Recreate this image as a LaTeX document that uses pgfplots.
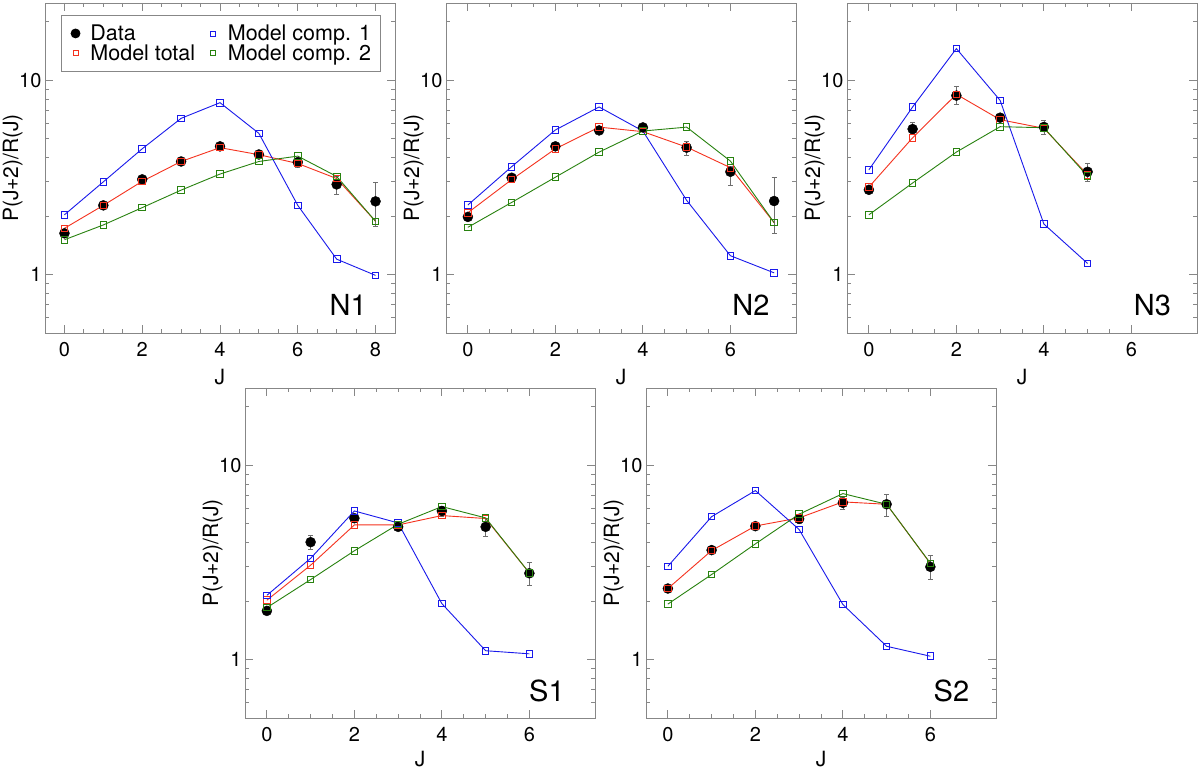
\documentclass[border=0pt]{standalone}
\usepackage{fontspec}
\setmainfont{TeX Gyre Heros}
\usepackage{pgfplots}
\pgfplotsset{compat=1.18}
\usepackage{pgfplotstable}
\definecolor{cblue}{RGB}{25,25,235}
\definecolor{cred}{RGB}{245,50,30}
\definecolor{cgreen}{RGB}{40,130,15}
\definecolor{cframe}{RGB}{135,135,135}
\definecolor{cerr}{RGB}{110,110,110}

\pgfplotstableread{
J d ep em tot c1 c2
0 1.63 0.05 0.05 1.73 2.03 1.51
1 2.27 0.07 0.07 2.27 3.00 1.80
2 3.09 0.08 0.08 3.02 4.44 2.21
3 3.82 0.10 0.10 3.82 6.37 2.72
4 4.57 0.12 0.12 4.50 7.67 3.29
5 4.15 0.15 0.15 4.14 5.33 3.82
6 3.79 0.16 0.24 3.73 2.27 4.07
7 2.91 0.28 0.33 3.12 1.20 3.20
8 2.38 0.61 0.62 1.88 0.99 1.88
}\tNone
\pgfplotstableread{
J d ep em tot c1 c2
0 1.98 0.06 0.06 2.08 2.28 1.75
1 3.15 0.08 0.08 3.08 3.59 2.35
2 4.57 0.10 0.10 4.44 5.55 3.17
3 5.52 0.15 0.15 5.74 7.29 4.27
4 5.72 0.15 0.15 5.44 5.48 5.48
5 4.50 0.37 0.38 4.53 2.41 5.74
6 3.38 0.24 0.50 3.55 1.25 3.84
7 2.39 0.76 0.77 1.85 1.02 1.85
}\tNtwo
\pgfplotstableread{
J d ep em tot c1 c2
0 2.73 0.10 0.10 2.82 3.46 2.03
1 5.61 0.45 0.30 5.06 7.29 2.96
2 8.34 0.93 0.85 8.47 14.56 4.27
3 6.42 0.25 0.25 6.27 7.88 5.77
4 5.75 0.48 0.48 5.66 1.82 5.70
5 3.38 0.35 0.38 3.26 1.14 3.21
}\tNthree
\pgfplotstableread{
J d ep em tot c1 c2
0 1.78 0.06 0.06 2.02 2.14 1.85
1 4.02 0.33 0.32 3.06 3.32 2.58
2 5.34 0.25 0.25 4.93 5.82 3.63
3 4.82 0.20 0.20 4.93 5.05 4.97
4 5.82 0.35 0.35 5.51 1.94 6.13
5 4.82 0.50 0.50 5.32 1.11 5.36
6 2.78 0.37 0.38 2.79 1.07 2.79
}\tSone
\pgfplotstableread{
J d ep em tot c1 c2
0 2.32 0.07 0.07 2.32 3.02 1.93
1 3.66 0.10 0.10 3.64 5.44 2.74
2 4.86 0.15 0.15 4.87 7.41 3.94
3 5.30 0.30 0.30 5.36 4.67 5.60
4 6.41 0.46 0.50 6.48 1.92 7.15
5 6.30 0.80 0.87 6.30 1.17 6.30
6 3.00 0.45 0.42 3.12 1.04 3.13
}\tStwo

\pgfplotsset{
  myax/.style={
    scale only axis, width=350pt, height=330pt,
    ymin=-0.30103, ymax=1.39794,
    ytick={0,1}, yticklabels={1,10},
    minor ytick={-0.2218,-0.1549,-0.0969,-0.0458,0.3010,0.4771,0.6021,0.6990,0.7782,0.8451,0.9031,0.9542,1.3010},
    xmin=-0.5, xmax=7.5,
    xtick={0,2,4,6}, xticklabels={0,2,4,6}, minor x tick num=3,
    axis line style={cframe, line width=0.8pt},
    tick style={cframe, line width=0.8pt},
    major tick length=8pt, minor tick length=4pt,
    tick align=inside,
    tick label style={font=\fontsize{20}{22}\selectfont, black},
    xticklabel style={yshift=-6pt},
    xlabel={J}, ylabel={P(J+2)/R(J)},
    xlabel style={font=\fontsize{21}{23}\selectfont, at={(axis description cs:0.5,-0.110)}, anchor=north, inner sep=0pt},
    ylabel style={font=\fontsize{21}{23}\selectfont, at={(axis description cs:-0.092,0.5)}, anchor=center},
    clip=false,
  },
  lowrow/.style={xlabel style={at={(axis description cs:0.5,-0.100)}}},
}
\tikzset{plab/.style={anchor=base east, inner sep=0pt, font=\fontsize{29}{31}\selectfont}}

\newcommand{\drawpanel}[1]{%
  \addplot[only marks, mark=*, mark size=5pt, black, forget plot,
    error bars/y dir=both, error bars/y explicit,
    error bars/error bar style={cerr, line width=0.7pt},
    error bars/error mark options={rotate=90, mark size=2.5pt, cerr, line width=0.7pt}]
    table[x=J, y expr={log10(\thisrow{d})},
      y error plus expr={log10(\thisrow{d}+\thisrow{ep})-log10(\thisrow{d})},
      y error minus expr={log10(\thisrow{d})-log10(\thisrow{d}-\thisrow{em})}]{#1};
  \addplot[cred, mark=square, mark size=3.3pt, line width=0.9pt, forget plot] table[x=J, y expr={log10(\thisrow{tot})}]{#1};
  \addplot[cblue, mark=square, mark size=3.3pt, line width=0.9pt, forget plot] table[x=J, y expr={log10(\thisrow{c1})}]{#1};
  \addplot[cgreen, mark=square, mark size=3.3pt, line width=0.9pt, forget plot] table[x=J, y expr={log10(\thisrow{c2})}]{#1};
}

\begin{document}
\begin{tikzpicture}
\fill[white] (0pt,0pt) rectangle (1200pt,771pt);
\useasboundingbox (0pt,0pt) rectangle (1200pt,771pt);

\begin{axis}[myax, at={(45pt,438pt)}, anchor=south west,
  xmin=-0.5, xmax=8.5, xtick={0,2,4,6,8}, xticklabels={0,2,4,6,8},
  legend columns=2,
  legend cell align=left,
  legend image code/.code={\draw[#1] plot coordinates {(0pt,0pt)}; \path (-6pt,0pt) (13pt,0pt);},
  legend style={at={(axis description cs:0.045,0.963)}, anchor=north west,
    draw=cframe, line width=0.8pt, inner xsep=8pt, inner ysep=8pt,
    font=\fontsize{21.5}{23}\selectfont, row sep=0pt,
    nodes={inner sep=1.5pt, text depth=0.1em},
    /tikz/every even column/.append style={column sep=10pt}},
]
\addlegendimage{mark=*, black, mark size=4.5pt}
\addlegendentry{Data}
\addlegendimage{mark=square, cblue, mark size=2.5pt}
\addlegendentry{Model comp. 1}
\addlegendimage{mark=square, cred, mark size=2.5pt}
\addlegendentry{Model total}
\addlegendimage{mark=square, cgreen, mark size=2.5pt}
\addlegendentry{Model comp. 2}
\drawpanel{\tNone}
\node[plab] at (axis description cs:0.92,0.0545) {N1};
\end{axis}

\begin{axis}[myax, at={(446pt,438pt)}, anchor=south west]
\drawpanel{\tNtwo}
\node[plab] at (axis description cs:0.925,0.0545) {N2};
\end{axis}

\begin{axis}[myax, at={(847pt,438pt)}, anchor=south west]
\drawpanel{\tNthree}
\node[plab] at (axis description cs:0.926,0.0545) {N3};
\end{axis}

\begin{axis}[myax, lowrow, at={(245pt,53pt)}, anchor=south west]
\drawpanel{\tSone}
\node[plab] at (axis description cs:0.914,0.049) {S1};
\end{axis}

\begin{axis}[myax, lowrow, at={(646pt,53pt)}, anchor=south west]
\drawpanel{\tStwo}
\node[plab] at (axis description cs:0.924,0.049) {S2};
\end{axis}
\end{tikzpicture}
\end{document}
